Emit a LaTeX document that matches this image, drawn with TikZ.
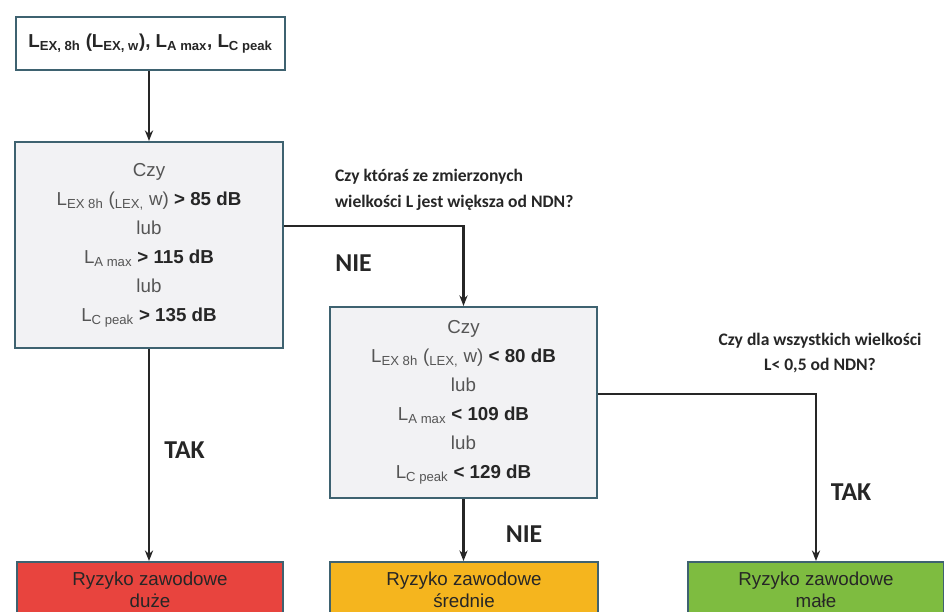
\documentclass[tikz,border=0pt]{standalone}
\usepackage{fontspec}
\setmainfont{Liberation Sans}
\newfontfamily\qfont{Carlito}
\usetikzlibrary{arrows.meta}
\definecolor{boxline}{RGB}{62,98,112}
\definecolor{boxfill}{RGB}{242,242,244}
\definecolor{riskred}{RGB}{232,68,62}
\definecolor{riskyellow}{RGB}{245,181,30}
\definecolor{riskgreen}{RGB}{126,188,64}
\definecolor{txtgray}{RGB}{85,85,85}
\newcommand{\Lsub}[1]{L\textsubscript{#1}}
\begin{document}
\begin{tikzpicture}[x=0.03cm, y=-0.03cm,
  box/.style={draw=boxline, line width=1.8pt, align=center},
  qbox/.style={box, fill=boxfill, minimum width=8.04cm, text=txtgray,
    font=\fontsize{16}{24.7}\selectfont},
  riskbox/.style={box, anchor=north, minimum width=8.04cm, minimum height=1.65cm,
    text=black!85, font=\fontsize{16}{18.7}\selectfont},
  arr/.style={-{Stealth[length=9pt,width=7pt]}, line width=2pt, black!85},
  question/.style={font=\qfont\bfseries\fontsize{15}{22}\selectfont, text=black!85},
  answer/.style={font=\qfont\bfseries\fontsize{22}{24}\selectfont, text=black!85}]
\useasboundingbox (0,0) rectangle (944,612);
% measured values
\node[box, minimum width=8.07cm, minimum height=1.59cm,
      font=\bfseries\fontsize{16}{18}\selectfont, text=black!85] (meas) at (150.5,43.5)
  {\Lsub{EX, 8h} (\Lsub{EX, w}), \Lsub{A max}, \Lsub{C peak}};
% first question
\node[qbox, minimum height=6.18cm] (q1) at (149,245)
  {Czy\\
   \Lsub{EX 8h} (\textsubscript{LEX,} w) \textcolor{black!85}{\textbf{> 85 dB}}\\
   lub\\
   \Lsub{A max} \textcolor{black!85}{\textbf{> 115 dB}}\\
   lub\\
   \Lsub{C peak} \textcolor{black!85}{\textbf{> 135 dB}}};
% second question
\node[qbox, minimum width=8.01cm, minimum height=5.73cm] (q2) at (463.5,402.5)
  {Czy\\
   \Lsub{EX 8h} (\textsubscript{LEX,} w) \textcolor{black!85}{\textbf{< 80 dB}}\\
   lub\\
   \Lsub{A max} \textcolor{black!85}{\textbf{< 109 dB}}\\
   lub\\
   \Lsub{C peak} \textcolor{black!85}{\textbf{< 129 dB}}};
% results
\node[riskbox, fill=riskred, minimum width=7.98cm] (high) at (150,561)
  {Ryzyko zawodowe\\duże};
\node[riskbox, fill=riskyellow] (mid) at (464,561)
  {Ryzyko zawodowe\\średnie};
\node[riskbox, fill=riskgreen, minimum width=7.68cm] (low) at (816,561)
  {Ryzyko zawodowe\\małe};
% connectors
\draw[arr] (q1.north |- meas.south) -- (q1.north);
\draw[arr] ([yshift=0.57cm]q1.east) -| (q2.north);
\draw[arr] (q1.south) -- (q1.south |- high.north);
\draw[arr] (q2.south) -- (q2.south |- mid.north);
\draw[arr] ([yshift=0.255cm]q2.east) -| (low.north);
% labels
\node[question, align=left, anchor=west] (ask1) at (331,190)
  {Czy któraś ze zmierzonych\\wielkości L jest większa od NDN?};
\node[question, align=center] (ask2) at (820,353)
  {Czy dla wszystkich wielkości\\L< 0,5 od NDN?};
\node[answer] (no1) at (353.5,263) {NIE};
\node[answer] (yes1) at (184.5,450) {TAK};
\node[answer] (no2) at (524,534) {NIE};
\node[answer] (yes2) at (851,492) {TAK};
\end{tikzpicture}
\end{document}
